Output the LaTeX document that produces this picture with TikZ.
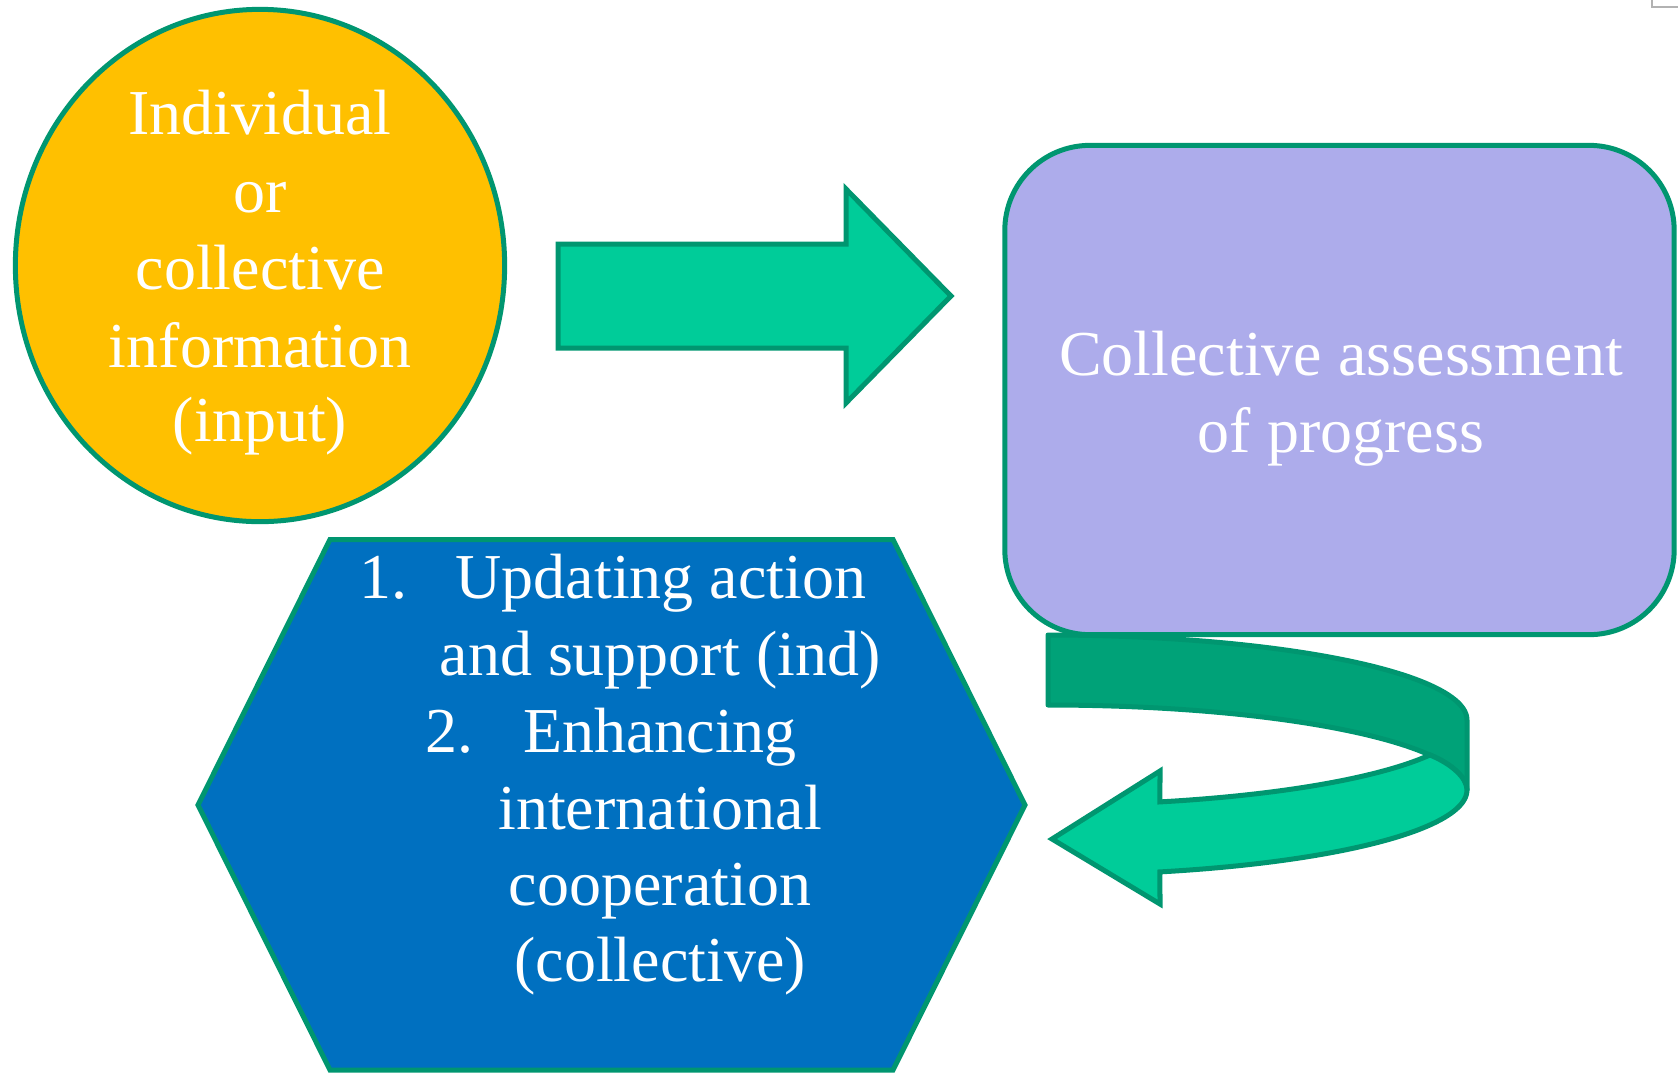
\documentclass[tikz,border=0pt]{standalone}
\usepackage{fontspec}
\setmainfont{Liberation Serif}
\usetikzlibrary{shapes.geometric}
\definecolor{edgegreen}{RGB}{0,150,112}
\definecolor{lightgreen}{RGB}{0,204,153}
\definecolor{darkband}{RGB}{0,162,120}
\definecolor{gold}{RGB}{255,192,0}
\definecolor{lavender}{RGB}{173,172,235}
\definecolor{hexblue}{RGB}{0,112,192}
\begin{document}
\begin{tikzpicture}[x=0.01cm,y=-0.01cm,
  txt/.style={text=white, inner sep=0pt, font=\fontsize{18.2pt}{21.8pt}\selectfont},
  outl/.style={draw=edgegreen, line width=0.05cm}]
\useasboundingbox (0,0) rectangle (1678,1072);

% circle (input)
\node[ellipse, outl, fill=gold, inner sep=0pt, minimum width=4.89cm, minimum height=5.12cm] (info) at (260,265.5) {};
\node[txt, anchor=base] (c1) at (260,134) {Individual};
\node[txt, anchor=base] (c2) at (260,212) {or};
\node[txt, anchor=base] (c3) at (260,289) {collective};
\node[txt, anchor=base] (c4) at (260,367) {information};
\node[txt, anchor=base] (c5) at (260,441) {(input)};

% straight block arrow
\coordinate (a1) at (558,244);
\coordinate (a2) at (846,244);
\coordinate (a3) at (846,189);
\coordinate (a4) at (951,296);
\coordinate (a5) at (846,403);
\coordinate (a6) at (846,348);
\coordinate (a7) at (558,348);
\draw[outl, fill=lightgreen] (a1) -- (a2) -- (a3) -- (a4) -- (a5) -- (a6) -- (a7) -- cycle;

% curved U-turn arrow: back (dark) part
\draw[outl, fill=darkband, line join=round]
  plot[domain=90:0, samples=60] ({1048+419*cos(\x)},{720-85*sin(\x)})
  -- (1467,790)
  .. controls (1467,778) and (1452,764) .. (1430,755)
  -- plot[domain=24.4:90, samples=60] ({1048+419*cos(\x)},{790-85*sin(\x)})
  -- cycle;
% front (light) part with head
\draw[outl, fill=lightgreen, line join=miter]
  (1430,755) .. controls (1452,764) and (1467,778) .. (1467,790)
  -- plot[domain=0:-74.5, samples=60] ({1048+419*cos(\x)},{790-85*sin(\x)})
  -- (1160,904) -- (1052,839) -- (1160,771)
  -- plot[domain=-74.5:-24.4, samples=60] ({1048+419*cos(\x)},{720-85*sin(\x)})
  -- cycle;

% rounded rectangle
\node[rectangle, rounded corners=0.85cm, outl, fill=lavender, inner sep=0pt,
      minimum width=6.69cm, minimum height=4.89cm] (assess) at (1339.5,390) {};
\node[txt, anchor=base] (r1) at (1341,375) {Collective assessment};
\node[txt, anchor=base] (r2) at (1341,452) {of progress};

% hexagon
\coordinate (h1) at (330,539.5);
\coordinate (h2) at (893,539.5);
\coordinate (h3) at (1025,805);
\coordinate (h4) at (893,1070);
\coordinate (h5) at (330,1070);
\coordinate (h6) at (198,805);
\draw[outl, fill=hexblue] (h1) -- (h2) -- (h3) -- (h4) -- (h5) -- (h6) -- cycle;
\node[txt, anchor=base west] (n1) at (359,598) {1.};
\node[txt, anchor=base] (x1) at (661,598) {Updating action};
\node[txt, anchor=base] (x2) at (660,675) {and support (ind)};
\node[txt, anchor=base west] (n2) at (425,752) {2.};
\node[txt, anchor=base] (x3) at (660,752) {Enhancing};
\node[txt, anchor=base] (x4) at (660,829) {international};
\node[txt, anchor=base] (x5) at (660,905) {cooperation};
\node[txt, anchor=base] (x6) at (660,981) {(collective)};

% small corner mark
\draw[gray!60, line width=0.4pt] (1652,0) -- (1652,7) -- (1678,7);
\end{tikzpicture}
\end{document}
